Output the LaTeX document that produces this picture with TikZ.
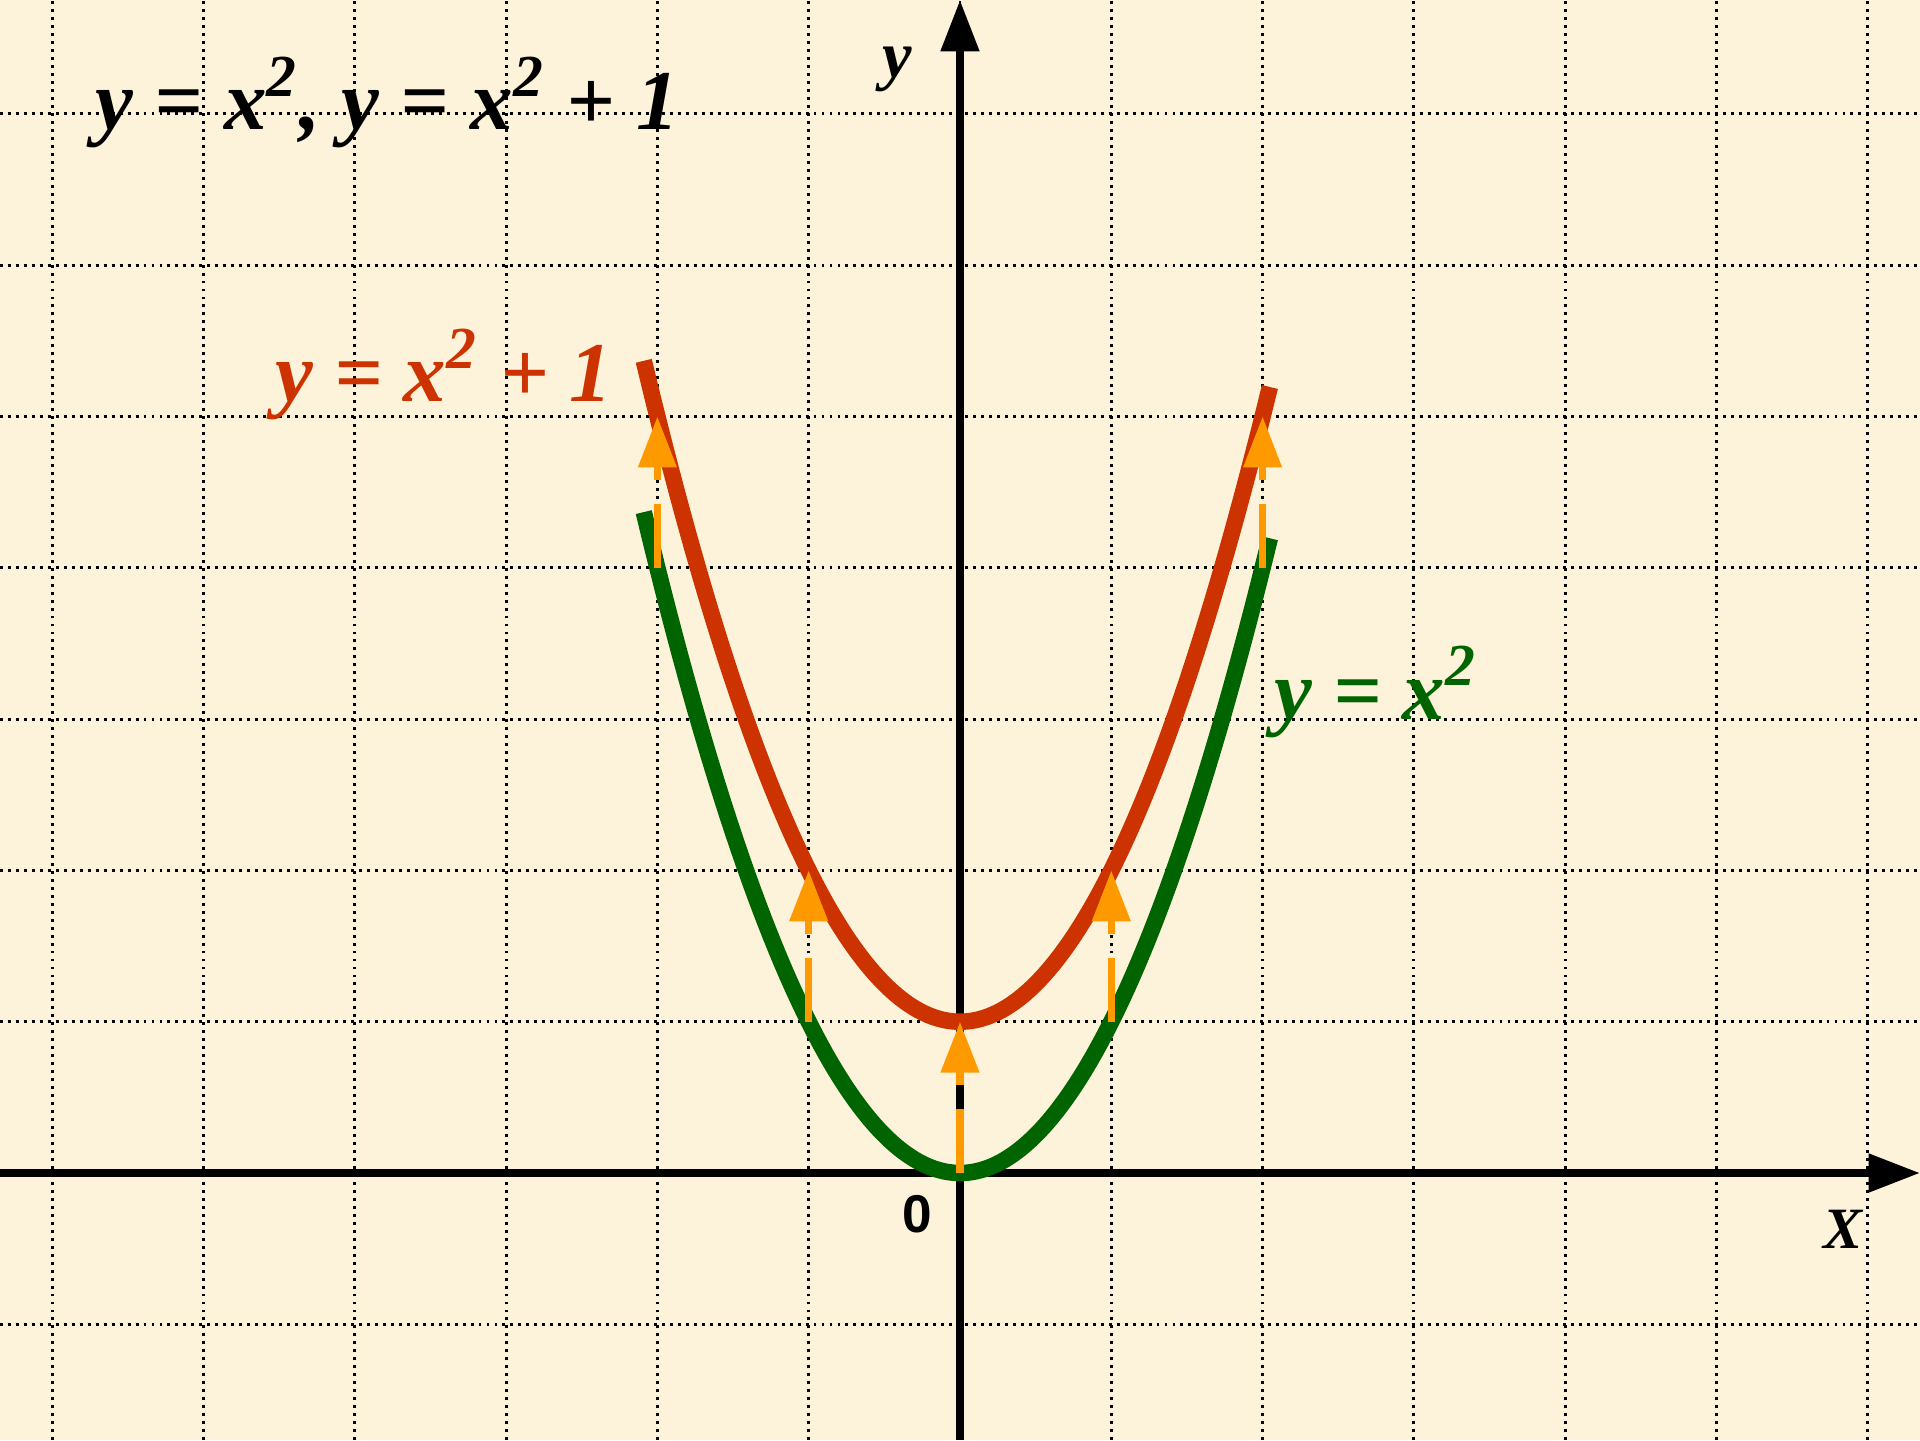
\documentclass[tikz,border=0pt]{standalone}
\usepackage{fontspec}
\setmainfont{Liberation Serif}
\newfontfamily\zerofont{Liberation Sans}
\usepackage{tikz}
\usetikzlibrary{arrows.meta}

\definecolor{paper}{RGB}{253,242,218}
\definecolor{redcurve}{RGB}{204,51,0}
\definecolor{greencurve}{RGB}{0,100,0}
\definecolor{shiftcol}{RGB}{255,153,0}

\begin{document}
\begin{tikzpicture}[
			gridline/.style={
					line width=0.55pt,
					dash pattern=on 0.55pt off 0.95pt % small dots
				},
			axis/.style={line width=1.5pt, -{Triangle[length=0.34cm, width=0.245cm]}},
			curve/.style={line width=3.1pt},
			shiftarrow/.style={
					shiftcol,
					line width=1.4pt,
					dash pattern=on 0.42cm off 0.16cm,
					-{Triangle[length=0.337cm, width=0.245cm]}
				},
			formula/.style={
					font=\fontsize{16}{18}\selectfont\bfseries\itshape,
					inner sep=0pt,
					anchor=base west
				}
		]
		\useasboundingbox (-6.345, -1.765) rectangle (6.345, 7.753);
		\fill[paper] (-6.345, -1.765) rectangle (6.345, 7.753);

		\draw[gridline] (-6.345, -1.765) grid (6.345, 7.753);

		\coordinate (xl) at (-6.345, 0);
		\coordinate (xr) at (6.345, 0);
		\coordinate (yb) at (0, -1.765);
		\coordinate (yt) at (0, 7.753);
		\draw[axis] (xl) -- (xr);
		\draw[axis] (yb) -- (yt);

		\node[inner sep=0pt, anchor=base, font=\fontsize{12.5}{14}\selectfont\bfseries\itshape] (lbly) at (-0.416, 7.24) {y};
		\node[inner sep=0pt, anchor=base, font=\fontsize{11}{13}\selectfont\bfseries\itshape] (lblx) at (5.836, -0.496) {X};
		\node[inner sep=0pt, font=\fontsize{10}{12}\selectfont\zerofont\bfseries] (lblzero) at (-0.284, -0.274) {0};

		% the two parabolas
		\draw[curve, greencurve] plot[domain=-2.09:2.05, samples=120, smooth] (\x, {\x*\x});
		\draw[curve, redcurve] plot[domain=-2.09:2.05, samples=120, smooth] (\x, {\x*\x+1});

		% shift by one unit up
		\coordinate (g0) at (-2, 4);
		\coordinate (r0) at (-2, 5);
		\coordinate (g1) at (-1, 1);
		\coordinate (r1) at (-1, 2);
		\coordinate (g2) at (0, 0);
		\coordinate (r2) at (0, 1);
		\coordinate (g3) at (1, 1);
		\coordinate (r3) at (1, 2);
		\coordinate (g4) at (2, 4);
		\coordinate (r4) at (2, 5);

		\draw[shiftarrow] (g0) -- (r0);
		\draw[shiftarrow] (g1) -- (r1);
		\draw[shiftarrow] (g2) -- (r2);
		\draw[shiftarrow] (g3) -- (r3);
		\draw[shiftarrow] (g4) -- (r4);

		\node[formula] (title) at (-5.72, 6.894) {y = x\textsuperscript{2}, y = x\textsuperscript{2} + 1};
		\node[formula, redcurve] (lblred) at (-4.534, 5.096) {y = x\textsuperscript{2} + 1};
		\node[formula, greencurve] (lblgreen) at (2.069, 3.0) {y = x\textsuperscript{2}};
	\end{tikzpicture}
\end{document}
